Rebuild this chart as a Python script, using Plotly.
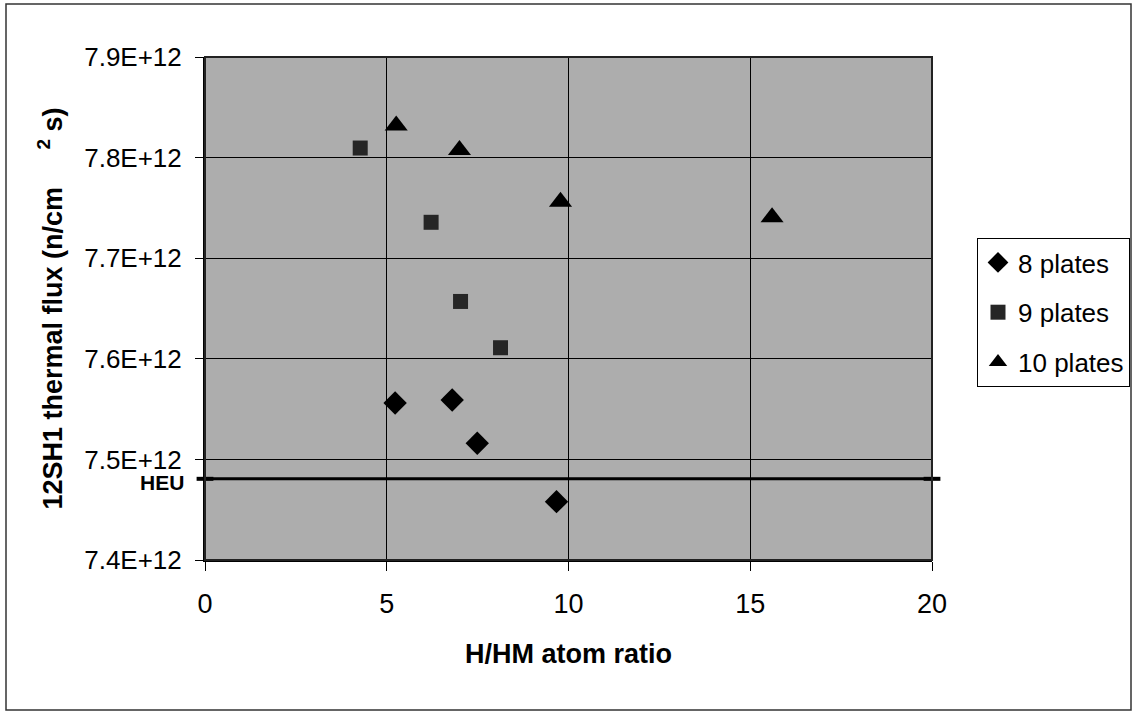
import plotly.graph_objects as go

# Data
x8 = [5.23, 6.80, 7.49, 9.67]
y8 = [7.556e12, 7.559e12, 7.516e12, 7.458e12]
x9 = [4.27, 6.22, 7.03, 8.13]
y9 = [7.8095e12, 7.7357e12, 7.657e12, 7.611e12]
x10 = [5.26, 7.00, 9.78, 15.6]
y10 = [7.832e12, 7.8076e12, 7.756e12, 7.7407e12]
heu_value = 7.4807e12
x_ticks = [0, 5, 10, 15, 20]
y_ticks = [7.4e12, 7.5e12, 7.6e12, 7.7e12, 7.8e12, 7.9e12]
y_tick_labels = ["7.4E+12", "7.5E+12", "7.6E+12", "7.7E+12", "7.8E+12", "7.9E+12"]

W, H = 1133, 713
ML, MR, MT, MB = 205, 201, 57, 153
PW, PH = W - ML - MR, H - MT - MB

FONT = "Liberation Sans, Arial, sans-serif"

fig = go.Figure()
fig.add_trace(go.Scatter(x=x8, y=y8, mode="markers", name="8 plates", legendgroup="a",
                         marker=dict(symbol="diamond", size=18, color="black")))
fig.add_trace(go.Scatter(x=x9, y=y9, mode="markers", name="9 plates", legendgroup="b",
                         marker=dict(symbol="square", size=15, color="#262626")))
fig.add_trace(go.Scatter(x=x10, y=y10, mode="markers", name="10 plates", legendgroup="c",
                         marker=dict(symbol="triangle-up", size=20, color="black")))
# HEU reference line
fig.add_trace(go.Scatter(x=[0, 20], y=[heu_value, heu_value], mode="lines+markers",
                         line=dict(color="black", width=3), showlegend=False,
                         cliponaxis=False, hoverinfo="skip",
                         marker=dict(symbol="line-ew-open", size=12,
                                     line=dict(width=4, color="black"))))

fig.add_annotation(text="<b>HEU</b>", x=0, y=heu_value, xref="x", yref="y",
                   xanchor="right", yanchor="middle", xshift=-19, yshift=-4,
                   showarrow=False, font=dict(family=FONT, size=21, color="black"))

# outer figure frame
fig.add_shape(type="rect", xref="paper", yref="paper",
              x0=(6 - ML) / PW, x1=(1131 - ML) / PW,
              y0=-(710 - MT - PH) / PH, y1=1 + (MT - 4) / PH,
              line=dict(color="#333333", width=1.5), fillcolor="rgba(0,0,0,0)", layer="below")

fig.update_layout(
    width=W, height=H,
    margin=dict(l=ML, r=MR, t=MT, b=MB, autoexpand=False),
    paper_bgcolor="white",
    plot_bgcolor="#adadad",
    font=dict(family=FONT, size=26, color="black"),
    showlegend=True,
    legend=dict(x=1 + (977 - ML - PW) / PW, y=1 - (238 - MT) / PH,
                xanchor="left", yanchor="top",
                bordercolor="black", borderwidth=1, bgcolor="white",
                font=dict(family=FONT, size=26), itemsizing="trace",
                tracegroupgap=13),
    xaxis=dict(range=[0, 20], tickvals=x_ticks, ticktext=[str(v) for v in x_ticks],
               showgrid=True, gridcolor="black", gridwidth=1,
               showline=True, linecolor="black", linewidth=2, mirror=False,
               ticks="outside", ticklen=9, tickcolor="black", ticklabelstandoff=10,
               tickfont=dict(size=27), zeroline=False,
               title=dict(text="<b>H/HM atom ratio</b>", font=dict(size=27), standoff=26)),
    yaxis=dict(range=[7.4e12, 7.9e12], tickvals=y_ticks, ticktext=y_tick_labels,
               showgrid=True, gridcolor="black", gridwidth=1,
               showline=True, linecolor="black", linewidth=2,
               ticks="outside", ticklen=8, tickcolor="black", ticklabelstandoff=8,
               tickfont=dict(size=26), zeroline=False,
               title=dict(text="<b>12SH1 thermal flux (n/cm&nbsp;&nbsp;&nbsp;&nbsp;&nbsp;<sup>2</sup> s)</b>",
                          font=dict(size=27), standoff=14)),
)
# border of plot area
fig.add_shape(type="rect", xref="paper", yref="paper", x0=0, x1=1, y0=0, y1=1,
              line=dict(color="#222222", width=2), layer="above")

fig.write_html("out.html")
